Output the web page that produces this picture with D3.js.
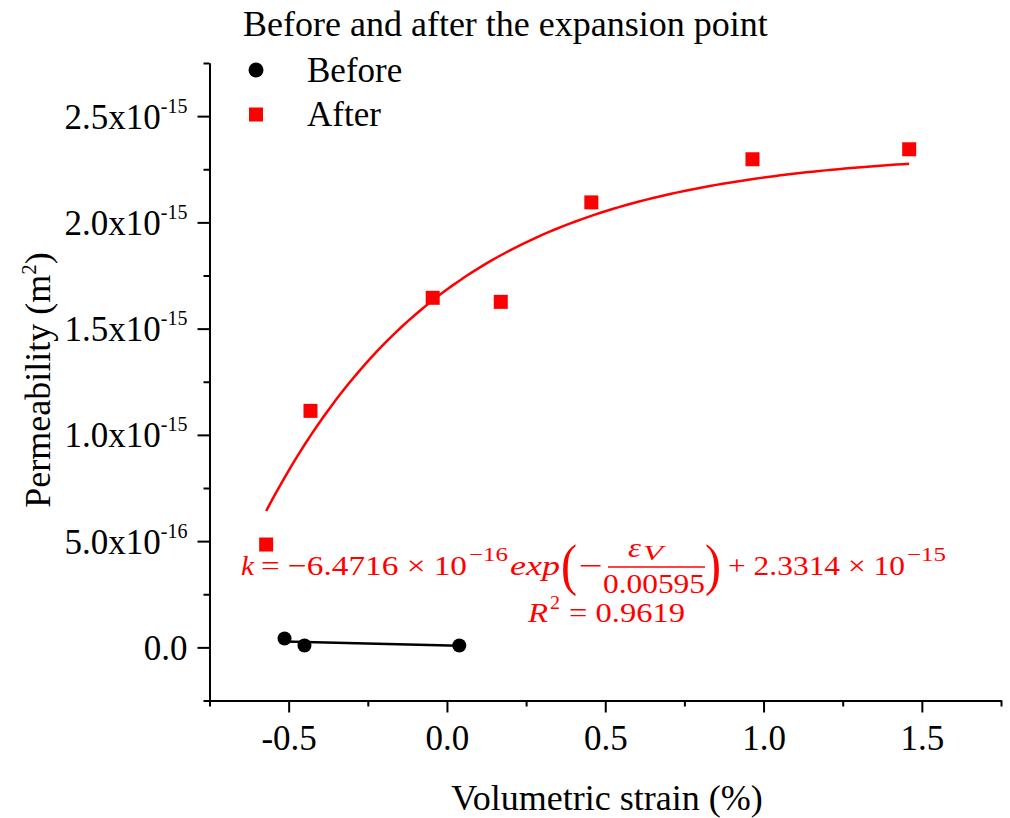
<!DOCTYPE html>
<meta charset="utf-8">
<script src="https://d3js.org/d3.v7.min.js"></script>
<style>
  body { margin: 0; background: #fff; }
  text { font-family: "Liberation Serif", "Times New Roman", serif; }
</style>
<div id="my_dataviz"></div>
<script>

// points (strain in %, permeability in m^2)
const beforeStrain = [-0.513, -0.450, 0.039];
const beforePerm = [4.2e-17, 0.9e-17, 0.9e-17];
const afterStrain = [-0.571, -0.431, -0.045, 0.170, 0.456, 0.965, 1.460];
const afterPerm = [4.84e-16, 1.113e-15, 1.645e-15, 1.626e-15, 2.094e-15, 2.297e-15, 2.344e-15];

// exponential fit printed on the chart: k = a*exp(-eV/b) + c
const fitA = -6.4716e-16, fitB = 0.00595, fitC = 2.3314e-15;

// axis ticks
const xMajor = [-0.5, 0, 0.5, 1.0, 1.5];
const xMinor = [-0.75, -0.25, 0.25, 0.75, 1.25, 1.75];
const xLabels = ["-0.5", "0.0", "0.5", "1.0", "1.5"];
const yMajor = [0, 5e-16, 1e-15, 1.5e-15, 2e-15, 2.5e-15];
const yMinor = [-2.5e-16, 2.5e-16, 7.5e-16, 1.25e-15, 1.75e-15, 2.25e-15, 2.75e-15];
const yLabels = [["0.0", ""], ["5.0x10", "-16"], ["1.0x10", "-15"], ["1.5x10", "-15"], ["2.0x10", "-15"], ["2.5x10", "-15"]];

const width = 1010, height = 818;

const svg = d3.select("#my_dataviz")
  .append("svg")
    .attr("width", width)
    .attr("height", height);

const x = d3.scaleLinear().domain([-0.75, 1.75]).range([209.5, 1001]);
const y = d3.scaleLinear().domain([-2.5e-16, 2.75e-15]).range([700.5, 63]);

// minor ticks
svg.append("g")
  .attr("transform", `translate(0,${y.range()[0]})`)
  .call(d3.axisBottom(x).tickValues(xMinor).tickSize(6).tickFormat("").tickSizeOuter(0));
svg.append("g")
  .attr("transform", `translate(${x.range()[0]},0)`)
  .call(d3.axisLeft(y).tickValues(yMinor).tickSize(6).tickFormat("").tickSizeOuter(0));

// major ticks + labels
const xAxis = svg.append("g")
  .attr("transform", `translate(0,${y.range()[0]})`)
  .call(d3.axisBottom(x).tickValues(xMajor).tickSize(12).tickSizeOuter(0)
    .tickFormat((d, i) => xLabels[i]));
xAxis.selectAll("text")
  .attr("y", 49.5).attr("dy", 0)
  .attr("font-size", 35).attr("fill", "#000")
  .attr("font-family", "Liberation Serif");

const yAxis = svg.append("g")
  .attr("transform", `translate(${x.range()[0]},0)`)
  .call(d3.axisLeft(y).tickValues(yMajor).tickSize(12).tickSizeOuter(0).tickFormat(""));
yAxis.selectAll(".tick text").each(function(d, i) {
  const t = d3.select(this)
    .attr("x", -22).attr("y", 12).attr("dy", 0)
    .attr("font-size", 35).attr("fill", "#000")
    .attr("font-family", "Liberation Serif")
    .attr("text-anchor", "end");
  t.append("tspan").text(yLabels[i][0]);
  if (yLabels[i][1]) t.append("tspan").attr("dy", -16).attr("font-size", 20).text(yLabels[i][1]);
});

svg.selectAll(".domain, .tick line").attr("stroke", "#000").attr("stroke-width", 2);

// axis titles
svg.append("text")
  .attr("x", 607).attr("y", 810)
  .attr("text-anchor", "middle")
  .attr("font-size", 36)
  .text("Volumetric strain (%)");

const yTitle = svg.append("text")
  .attr("transform", "translate(50,380) rotate(-90)")
  .attr("text-anchor", "middle")
  .attr("font-size", 36);
yTitle.append("tspan").text("Permeability (m");
yTitle.append("tspan").attr("dy", -14).attr("font-size", 21).text("2");
yTitle.append("tspan").attr("dy", 14).text(")");

// fitted curve for "After"
const sx = d3.extent(afterStrain);
const curvePts = d3.range(0, 101).map(i => {
  const s = sx[0] + (sx[1] - sx[0]) * i / 100;
  return [s, fitA * Math.exp(-(s / 100) / fitB) + fitC];
});
svg.append("path")
  .datum(curvePts)
  .attr("fill", "none")
  .attr("stroke", "#ff0000")
  .attr("stroke-width", 2.5)
  .attr("d", d3.line().x(d => x(d[0])).y(d => y(d[1])));

// linear fit for "Before"
const mx = d3.mean(beforeStrain), my = d3.mean(beforePerm);
const slope = d3.sum(beforeStrain, (s, i) => (s - mx) * (beforePerm[i] - my)) /
              d3.sum(beforeStrain, s => (s - mx) * (s - mx));
const bx = d3.extent(beforeStrain);
svg.append("path")
  .datum(bx.map(s => [s, my + slope * (s - mx)]))
  .attr("fill", "none")
  .attr("stroke", "#000")
  .attr("stroke-width", 2.5)
  .attr("d", d3.line().x(d => x(d[0])).y(d => y(d[1])));

// markers
svg.append("g")
  .selectAll("circle")
  .data(beforeStrain.map((s, i) => [s, beforePerm[i]]))
  .join("circle")
    .attr("cx", d => x(d[0]))
    .attr("cy", d => y(d[1]))
    .attr("r", 7)
    .attr("fill", "#000");

const sq = 14;
svg.append("g")
  .selectAll("rect")
  .data(afterStrain.map((s, i) => [s, afterPerm[i]]))
  .join("rect")
    .attr("x", d => x(d[0]) - sq / 2)
    .attr("y", d => y(d[1]) - sq / 2)
    .attr("width", sq)
    .attr("height", sq)
    .attr("fill", "#ff0000");

// legend
svg.append("text")
  .attr("x", 243).attr("y", 36)
  .attr("font-size", 36)
  .text("Before and after the expansion point");
svg.append("circle").attr("cx", 256).attr("cy", 70).attr("r", 7.5).attr("fill", "#000");
svg.append("text").attr("x", 307).attr("y", 82).attr("font-size", 35).text("Before");
svg.append("rect").attr("x", 249).attr("y", 107.5).attr("width", 14).attr("height", 14).attr("fill", "#ff0000");
svg.append("text").attr("x", 307).attr("y", 126).attr("font-size", 35).text("After");

// equation
const eq = svg.append("g").attr("fill", "#ff0000");
function piece(px, py, str, size, len, italic, anchor) {
  const t = eq.append("text")
    .attr("x", px).attr("y", py)
    .attr("font-size", size)
    .attr("font-style", italic ? "italic" : "normal")
    .attr("text-anchor", anchor || "start")
    .text(str);
  if (len) t.attr("textLength", len).attr("lengthAdjust", "spacingAndGlyphs");
  return t;
}
piece(241, 575, "k", 28, 13, true);
piece(261, 575, "= \u22126.4716 \u00d7 10", 28, 206);
piece(469, 561, "\u221216", 19, 39);
piece(510, 575, "exp", 28, 50, true);
piece(561, 584, "(", 58, 16);
piece(579, 575, "\u2212", 28, 24);
piece(628, 557, "\u03b5", 27, 13, true);
piece(643, 560, "V", 22, 20, true);
eq.append("line")
  .attr("x1", 608).attr("x2", 705).attr("y1", 567).attr("y2", 567)
  .attr("stroke", "#ff0000").attr("stroke-width", 1.5);
piece(603, 593, "0.00595", 28, 102);
piece(705, 584, ")", 58, 16);
piece(728, 575, "+ 2.3314 \u00d7 10", 28, 177);
piece(907, 561, "\u221215", 19, 39);
piece(528, 622, "R", 28, 20, true);
piece(550, 609, "2", 19, 10);
piece(569, 622, "= 0.9619", 28, 116);

</script>
